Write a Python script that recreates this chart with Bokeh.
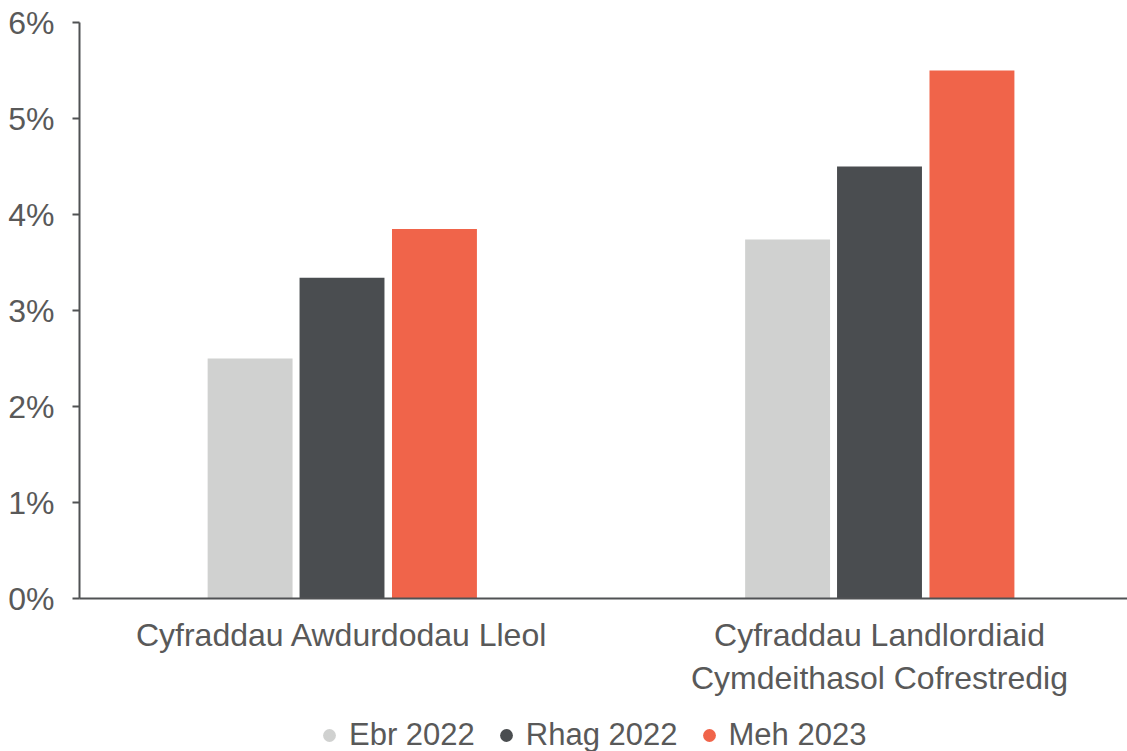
from bokeh.plotting import figure
from bokeh.layouts import column
from bokeh.models import (ColumnDataSource, FixedTicker, PrintfTickFormatter, Range1d,
                          Legend, LegendItem)
from bokeh.transform import dodge
from bokeh.embed import file_html
from bokeh.resources import INLINE

categories = ["Cyfraddau Awdurdodau Lleol", "Cyfraddau Landlordiaid\nCymdeithasol Cofrestredig"]
series_names = ["Ebr 2022", "Rhag 2022", "Meh 2023"]
ebr_2022 = [2.5, 3.74]
rhag_2022 = [3.34, 4.5]
meh_2023 = [3.85, 5.5]
y_ticks = [0, 1, 2, 3, 4, 5, 6]

colors = ["#d0d1d0", "#4a4d50", "#f0644a"]
FONT = "Liberation Sans"
TXT = "#595959"
FS = "32px"

src = ColumnDataSource(dict(x=list(range(len(categories))), ebr=ebr_2022, rhag=rhag_2022, meh=meh_2023))

p = figure(frame_width=1048, frame_height=576, output_backend="svg", toolbar_location=None,
           x_range=Range1d(-0.4884, 1.4614), y_range=Range1d(0, 6),
           min_border_left=79, min_border_right=0, min_border_top=22, min_border_bottom=117)
p.outline_line_color = None
p.xgrid.visible = False
p.ygrid.visible = False

w = 0.158
offs = [-0.171, 0.0, 0.172]
for col, off, c in zip(["ebr", "rhag", "meh"], offs, colors):
    p.vbar(x=dodge("x", off, range=p.x_range), top=col, width=w, source=src,
           fill_color=c, line_color=None)

ya = p.yaxis[0]
ya.ticker = FixedTicker(ticks=y_ticks)
ya.formatter = PrintfTickFormatter(format="%d%%")
ya.major_tick_out = 7
ya.major_tick_in = 0
ya.minor_tick_line_color = None
ya.axis_line_color = "#505254"
ya.axis_line_width = 2
ya.major_tick_line_color = "#505254"
ya.major_tick_line_width = 2
ya.major_label_text_font = FONT
ya.major_label_text_font_size = FS
ya.major_label_text_color = TXT
ya.major_label_standoff = 18

xa = p.xaxis[0]
xa.ticker = FixedTicker(ticks=list(range(len(categories))))
xa.major_label_overrides = {i: c for i, c in enumerate(categories)}
xa.major_tick_line_color = None
xa.minor_tick_line_color = None
xa.axis_line_color = "#505254"
xa.axis_line_width = 2
xa.major_label_text_font = FONT
xa.major_label_text_font_size = FS
xa.major_label_text_color = TXT
xa.major_label_standoff = 12

# separate strip for the legend
lg = figure(width=1127, height=40, output_backend="svg", toolbar_location=None,
            x_axis_location=None, y_axis_location=None, min_border=0,
            x_range=Range1d(0, 1), y_range=Range1d(0, 1))
lg.outline_line_color = None
lg.xgrid.visible = False
lg.ygrid.visible = False
renders = []
for name, c in zip(series_names, colors):
    r = lg.scatter(x=[float("nan")], y=[float("nan")], marker="circle", size=13,
                   fill_color=c, line_color=None)
    renders.append((name, r))

legend = Legend(items=[LegendItem(label=n, renderers=[r]) for n, r in renders],
                orientation="horizontal", location=(234, 2),
                label_text_font=FONT, label_text_font_size="31px", label_text_color=TXT,
                glyph_width=32, glyph_height=32, label_standoff=4, spacing=15,
                padding=0, margin=0, border_line_color=None, background_fill_alpha=0)
lg.add_layout(legend, "center")

layout = column(p, lg, spacing=0)
open("out.html", "w").write(file_html(layout, INLINE))
